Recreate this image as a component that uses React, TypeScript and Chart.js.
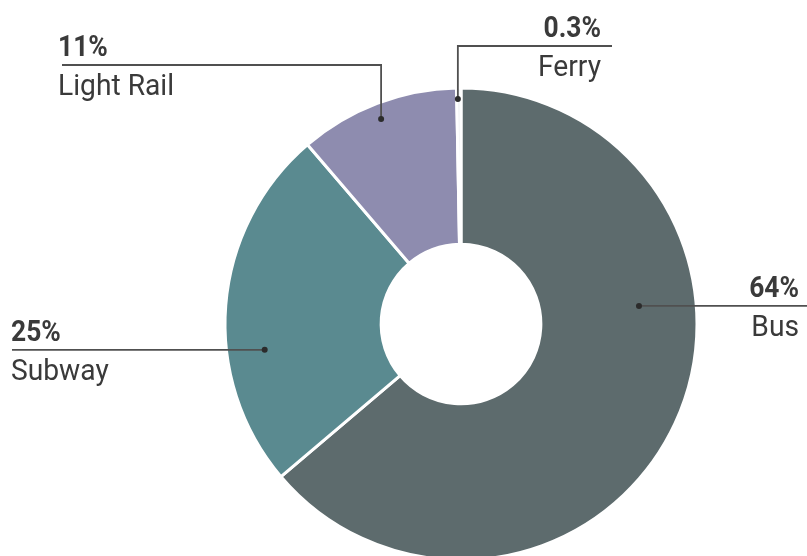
import React, { useEffect, useRef } from "react";
import { Chart, registerables } from "chart.js";

Chart.register(...registerables);

const categories = ["Bus", "Subway", "Light Rail", "Ferry"];
const shares = [64, 25, 11, 0.3];
const shareLabels = ["64%", "25%", "11%", "0.3%"];
const colors = ["#5d6b6d", "#5a8a90", "#8e8caf", "#eceef0"];

// Annotation layout: anchor angle (deg clockwise from top) and radius fraction,
// leader elbow y (or null for straight), line end x, text alignment and x.
const annotations = [
  { angle: 84.2, rFrac: 0.758, elbowY: null as number | null, lineEndX: 807, align: "right", textX: 799 },
  { angle: 262.5, rFrac: 0.839, elbowY: null as number | null, lineEndX: 12, align: "left", textX: 11 },
  { angle: 338.7, rFrac: 0.932, elbowY: 65, lineEndX: 62, align: "left", textX: 58 },
  { angle: 359.2, rFrac: 0.953, elbowY: 46, lineEndX: 612, align: "right", textX: 601 },
];

const labelPlugin = {
  id: "leaderLabels",
  afterDatasetsDraw(chart: any) {
    const meta = chart.getDatasetMeta(0);
    const arc = meta.data[0];
    if (!arc) return;
    const cx = arc.x;
    const cy = arc.y;
    const R = arc.outerRadius;
    const ctx = chart.ctx;
    ctx.save();
    annotations.forEach((a, i) => {
      const th = (a.angle * Math.PI) / 180;
      const dx = cx + R * a.rFrac * Math.sin(th);
      const dy = cy - R * a.rFrac * Math.cos(th);
      const lineY = a.elbowY == null ? dy : a.elbowY;
      ctx.strokeStyle = "#505050";
      ctx.lineWidth = 1.8;
      ctx.beginPath();
      ctx.moveTo(dx, dy);
      if (a.elbowY != null) ctx.lineTo(dx, a.elbowY);
      ctx.lineTo(a.lineEndX, lineY);
      ctx.stroke();
      ctx.fillStyle = "#2b2b2b";
      ctx.beginPath();
      ctx.arc(dx, dy, 3, 0, Math.PI * 2);
      ctx.fill();

      ctx.fillStyle = "#3a3a3a";
      ctx.textBaseline = "alphabetic";
      ctx.textAlign = a.align;
      ctx.save();
      ctx.translate(a.textX, 0);
      ctx.scale(0.88, 1);
      ctx.font = "bold 30px Roboto";
      ctx.fillText(shareLabels[i], 0, lineY - 9);
      ctx.restore();
      ctx.save();
      ctx.translate(a.textX, 0);
      ctx.scale(0.94, 1);
      ctx.font = "30px Roboto";
      ctx.fillText(categories[i], 0, lineY + 30);
      ctx.restore();
    });
    ctx.restore();
  },
};

export default function App() {
  const ref = useRef<HTMLCanvasElement>(null);
  useEffect(() => {
    document.body.style.margin = "0";
    const chart = new Chart(ref.current!, {
      type: "doughnut",
      data: {
        labels: categories,
        datasets: [
          {
            data: shares,
            backgroundColor: colors,
            borderColor: "#ffffff",
            borderWidth: 3,
            clip: false as any,
          },
        ],
      },
      options: {
        animation: false,
        responsive: false,
        radius: 236,
        cutout: 78,
        rotation: 0,
        layout: { padding: { left: 115, right: 0, top: 92, bottom: 0 } },
        plugins: { legend: { display: false }, tooltip: { enabled: false } },
      } as any,
      plugins: [labelPlugin],
    });
    return () => chart.destroy();
  }, []);
  return (
    <div style={{ width: 807, height: 556, background: "#fff" }}>
      <canvas ref={ref} width={807} height={556} style={{ display: "block" }} />
    </div>
  );
}
